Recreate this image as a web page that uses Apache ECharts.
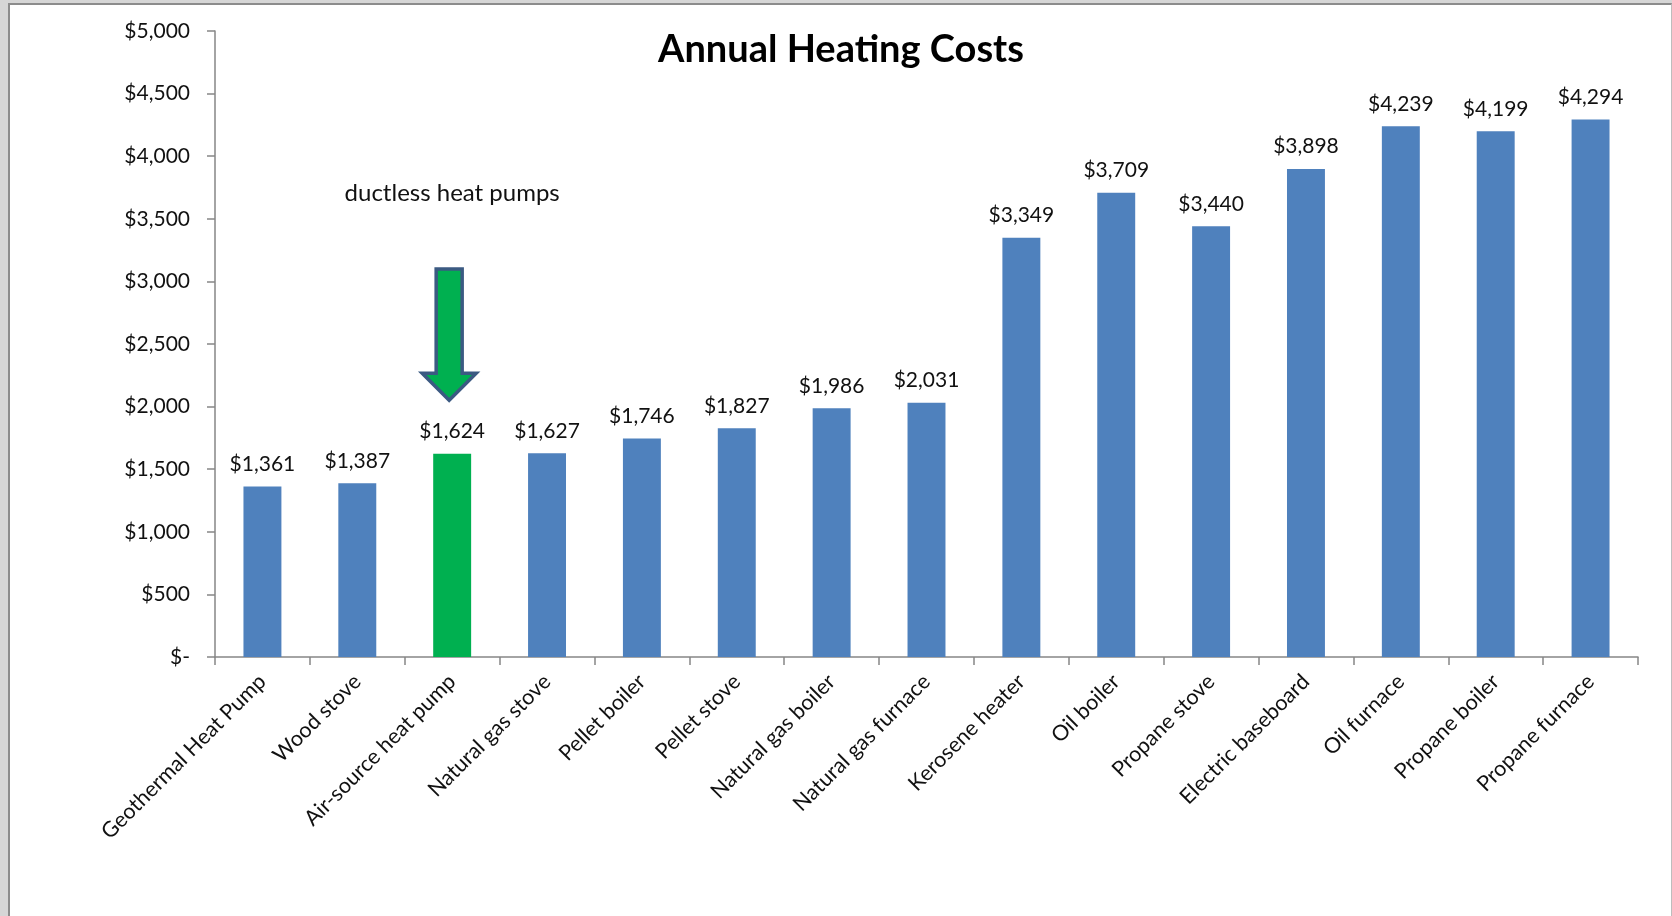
<!DOCTYPE html>
<html>
<head>
<meta charset="utf-8">
<script src="https://cdn.jsdelivr.net/npm/echarts@6/dist/echarts.min.js"></script>
<style>
  html, body { margin: 0; padding: 0; width: 1672px; height: 916px; overflow: hidden; background: #d6d6d6; }
  #frame { position: absolute; left: 8px; top: 3px; width: 1661px; height: 913px; background: #ffffff;
           border-left: 2px solid #8c8c8c; border-top: 2px solid #8c8c8c; border-right: 1px solid #bdbdbd; }
  #chart { position: absolute; left: 0; top: 0; width: 1672px; height: 916px; }
</style>
</head>
<body>
<div id="frame"></div>
<div id="chart"></div>
<script>
const categories = ['Geothermal Heat Pump', 'Wood stove', 'Air-source heat pump', 'Natural gas stove',
  'Pellet boiler', 'Pellet stove', 'Natural gas boiler', 'Natural gas furnace', 'Kerosene heater',
  'Oil boiler', 'Propane stove', 'Electric baseboard', 'Oil furnace', 'Propane boiler', 'Propane furnace'];
const costs = [1361, 1387, 1624, 1627, 1746, 1827, 1986, 2031, 3349, 3709, 3440, 3898, 4239, 4199, 4294];
const highlighted = ['Air-source heat pump'];
const yTicks = [0, 500, 1000, 1500, 2000, 2500, 3000, 3500, 4000, 4500, 5000];
const titleText = 'Annual Heating Costs';
const annotationText = 'ductless heat pumps';
const annotationCategory = 'Air-source heat pump';
const annotationTextValue = 3700;
const arrowTopValue = 3100;
const arrowTipValue = 2050;

const FONT = 'Lato, "Open Sans", "Liberation Sans", sans-serif';
const BLUE = '#4f81bd';
const GREEN = '#00b050';

function money(v) {
  if (v === 0) return '$-';
  return '$' + v.toLocaleString('en-US');
}

const chart = echarts.init(document.getElementById('chart'), null, { renderer: 'canvas' });

const option = {
  backgroundColor: 'transparent',
  animation: false,
  title: {
    text: titleText,
    left: 836,
    textAlign: 'center',
    top: 26,
    textStyle: { fontFamily: FONT, fontWeight: 'bold', fontSize: 38, color: '#000000' }
  },
  grid: { left: 215, right: 34, top: 31, bottom: 259, containLabel: false },
  xAxis: {
    type: 'category',
    data: categories,
    boundaryGap: true,
    axisLine: { lineStyle: { color: '#868686', width: 1.5 } },
    axisTick: { show: true, length: 8, lineStyle: { color: '#868686', width: 1.5 } },
    axisLabel: {
      rotate: 45, interval: 0, margin: 21,
      fontFamily: FONT, fontSize: 21.5, color: '#111111'
    },
    splitLine: { show: false }
  },
  yAxis: {
    type: 'value',
    min: yTicks[0],
    max: yTicks[yTicks.length - 1],
    interval: yTicks[1] - yTicks[0],
    axisLine: { show: true, lineStyle: { color: '#868686', width: 1.5 } },
    axisTick: { show: true, length: 8, lineStyle: { color: '#868686', width: 1.5 } },
    axisLabel: {
      margin: 25, fontFamily: FONT, fontSize: 21, color: '#111111',
      formatter: v => money(v)
    },
    splitLine: { show: false }
  },
  series: [{
    type: 'bar',
    data: costs.map((v, i) => ({
      value: v,
      itemStyle: { color: highlighted.includes(categories[i]) ? GREEN : BLUE }
    })),
    barWidth: '40%',
    label: {
      show: true, position: 'top', distance: 12,
      fontFamily: FONT, fontSize: 21, color: '#111111',
      formatter: p => money(p.value)
    }
  }]
};
chart.setOption(option);

// Annotation placed through the chart's own scales
const ci = categories.indexOf(annotationCategory);
const pText = chart.convertToPixel({ gridIndex: 0 }, [ci, annotationTextValue]);
const pTop = chart.convertToPixel({ gridIndex: 0 }, [ci, arrowTopValue]);
const pTip = chart.convertToPixel({ gridIndex: 0 }, [ci, arrowTipValue]);
const cx = pTip[0] - 3;
const shaftHalf = 13, headHalf = 27, headH = 27;
const topY = pTop[1], tipY = pTip[1], neckY = tipY - headH;
chart.setOption({
  graphic: [
    {
      type: 'text',
      x: pText[0], y: pText[1],
      style: {
        text: annotationText, fontFamily: FONT, fontSize: 24, fill: '#111111',
        align: 'center', verticalAlign: 'middle'
      }
    },
    {
      type: 'polygon',
      shape: {
        points: [
          [cx - shaftHalf, topY], [cx + shaftHalf, topY], [cx + shaftHalf, neckY],
          [cx + headHalf, neckY], [cx, tipY], [cx - headHalf, neckY], [cx - shaftHalf, neckY]
        ]
      },
      style: { fill: GREEN, stroke: '#3b5a82', lineWidth: 3.5, lineJoin: 'miter' }
    }
  ]
});
</script>
</body>
</html>
